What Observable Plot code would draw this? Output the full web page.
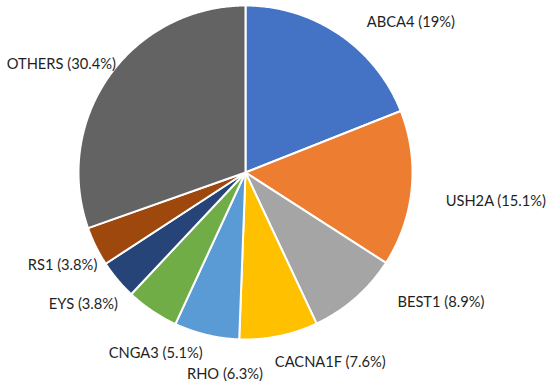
<!DOCTYPE html>
<html>
<head>
<meta charset="utf-8">
<script src="https://cdn.jsdelivr.net/npm/d3@7"></script>
<script src="https://cdn.jsdelivr.net/npm/@observablehq/plot@0.6"></script>
<style>
  html, body { margin: 0; padding: 0; background: #fff; }
  #chart svg { display: block; }
</style>
</head>
<body>
<div id="chart"></div>
<script>
// ---- data ----
const genes = ["ABCA4", "USH2A", "BEST1", "CACNA1F", "RHO", "CNGA3", "EYS", "RS1", "OTHERS"];
const percents = [19, 15.1, 8.9, 7.6, 6.3, 5.1, 3.8, 3.8, 30.4];

// ---- styling / layout (kept apart from the data) ----
const sliceColors = ["#4472C4", "#ED7D31", "#A5A5A5", "#FFC000", "#5B9BD5", "#70AD47", "#264478", "#9E480E", "#636363"];
const labelNudge = [[19, 5], [19, 11], [32, -13], [-7, 6], [60, 19], [59, 24], [12, 9], [15, 12], [19, 2]];
const W = 550, H = 388;
const cx = 245, cy = 172, R = 167, labelDist = 182;

const rows = genes.map((g, i) => ({gene: g, value: percents[i], label: `${g} (${percents[i]}%)`}));
const arcs = d3.pie().sort(null).value(d => d.value)(rows);

// slice outlines, in data units (x right, y down), from pie angles
const slicePts = [];
arcs.forEach(a => {
  const g = a.data.gene;
  slicePts.push({gene: g, x: 0, y: 0});
  const n = Math.max(2, Math.ceil((a.endAngle - a.startAngle) / (Math.PI / 360)));
  for (let k = 0; k <= n; k++) {
    const t = a.startAngle + (a.endAngle - a.startAngle) * k / n;
    slicePts.push({gene: g, x: R * Math.sin(t), y: -R * Math.cos(t)});
  }
});

// labels at mid angle
const labelData = arcs.map((a, i) => {
  const m = (a.startAngle + a.endAngle) / 2;
  const ux = Math.sin(m), uy = -Math.cos(m);
  return {
    label: a.data.label,
    x: labelDist * ux + labelNudge[i][0],
    y: labelDist * uy + labelNudge[i][1],
    ta: ux > 0.15 ? "start" : ux < -0.15 ? "end" : "middle",
    la: uy < -0.5 ? "bottom" : uy > 0.5 ? "top" : "middle"
  };
});
const groups = d3.groups(labelData, d => d.ta + "|" + d.la);
const textMarks = groups.map(([key, ds]) => {
  const [ta, la] = key.split("|");
  return Plot.text(ds, {x: "x", y: "y", text: "label", textAnchor: ta, lineAnchor: la,
    fontSize: 14.7, fill: "#1f1f1f"});
});

const chart = Plot.plot({
  width: W, height: H,
  marginTop: 0, marginRight: 0, marginBottom: 0, marginLeft: 0,
  style: {fontFamily: "Lato, 'Open Sans', sans-serif", background: "#fff"},
  x: {domain: [-cx, W - cx], range: [0, W], axis: null},
  y: {domain: [-cy, H - cy], range: [0, H], axis: null},
  color: {domain: genes, range: sliceColors},
  marks: [
    Plot.line(slicePts, {x: "x", y: "y", z: "gene", fill: "gene", stroke: "#fff",
      strokeWidth: 2, strokeLinejoin: "round", curve: "linear-closed"}),
    ...textMarks
  ]
});
document.getElementById("chart").appendChild(chart);
</script>
</body>
</html>
